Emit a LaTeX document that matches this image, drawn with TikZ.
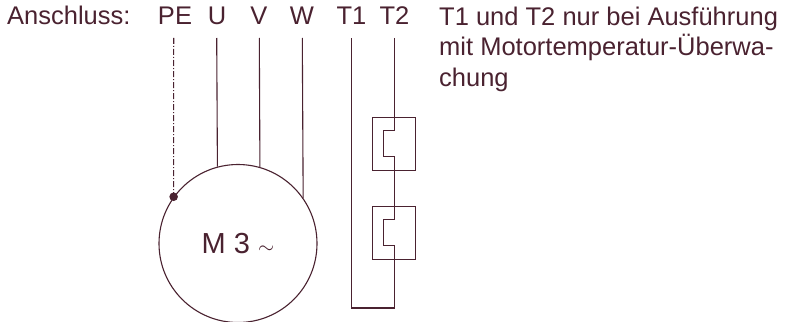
\documentclass[tikz,border=0pt]{standalone}
\usepackage{fontspec}
\setmainfont{Liberation Sans}
\definecolor{wirecol}{HTML}{4A2230}

\begin{document}
\begin{tikzpicture}[x=1pt,y=-1pt,wirecol,text=wirecol,
        wire/.style={draw=wirecol,line width=1.1pt},
        label/.style={font=\fontsize{25.5}{30.6}\selectfont,inner sep=0pt,anchor=base west}]
        \useasboundingbox (0,0) rectangle (786,321);

        % 添加标签
        \node[label] (title) at (7,25) {Anschluss:};
        \node[label,anchor=base] (pe) at (175,25) {PE};
        \node[label,anchor=base] (u) at (217,25) {U};
        \node[label,anchor=base] (v) at (259,25) {V};
        \node[label,anchor=base] (w) at (302,25) {W};
        \node[label,anchor=base] (t1) at (351.5,25) {T1};
        \node[label,anchor=base] (t2) at (394.5,25) {T2};
        \node[label,align=left,anchor=base west] (note) at (439,86.2) {T1 und T2 nur bei Ausführung\\mit Motortemperatur-Überwa-\\chung};

        % 创建电机
        \node[circle,wire,minimum size=158pt,inner sep=0pt,font=\fontsize{29}{32}\selectfont] (motor) at (238,243.5) {M 3 {\fontsize{21}{24}\selectfont$\sim$}};

        % 添加引线
        \coordinate (petop) at (173.7,38);
        \coordinate (utop) at (216.7,38);
        \coordinate (vtop) at (259.3,38);
        \coordinate (wtop) at (302.3,38);
        \coordinate (t1top) at (351.7,38);
        \coordinate (t2top) at (394.3,38);
        \draw[wire,dash pattern=on 6pt off 2pt on 1pt off 2pt] (petop) -- (motor.144.5);
        \fill (motor.144.5) circle (4.3pt);
        \draw[wire] (utop) -- (motor.105.6);
        \draw[wire] (vtop) -- (motor.74.4);
        \draw[wire] (wtop) -- (motor.35.5);

        % 添加温度开关
        \node[draw=wirecol,line width=1pt,minimum width=43.3pt,minimum height=53pt,inner sep=0pt] (box1) at (394.3,143.5) {};
        \node[draw=wirecol,line width=1pt,minimum width=43.3pt,minimum height=53pt,inner sep=0pt] (box2) at (394.3,232.7) {};
        \coordinate (s1a) at (394.3,130.3);
        \coordinate (s1b) at (383.7,130.3);
        \coordinate (s1c) at (383.7,156.7);
        \coordinate (s1d) at (394.3,156.7);
        \coordinate (s2a) at (394.3,219.3);
        \coordinate (s2b) at (383.7,219.3);
        \coordinate (s2c) at (383.7,245.7);
        \coordinate (s2d) at (394.3,245.7);
        \coordinate (loopr) at (394.3,308);
        \coordinate (loopl) at (351.7,308);
        \draw[wire] (t2top) -- (s1a) -- (s1b) -- (s1c) -- (s1d) -- (s2a) -- (s2b) -- (s2c) -- (s2d) -- (loopr) -- (loopl) -- (t1top);
    \end{tikzpicture}
\end{document}
